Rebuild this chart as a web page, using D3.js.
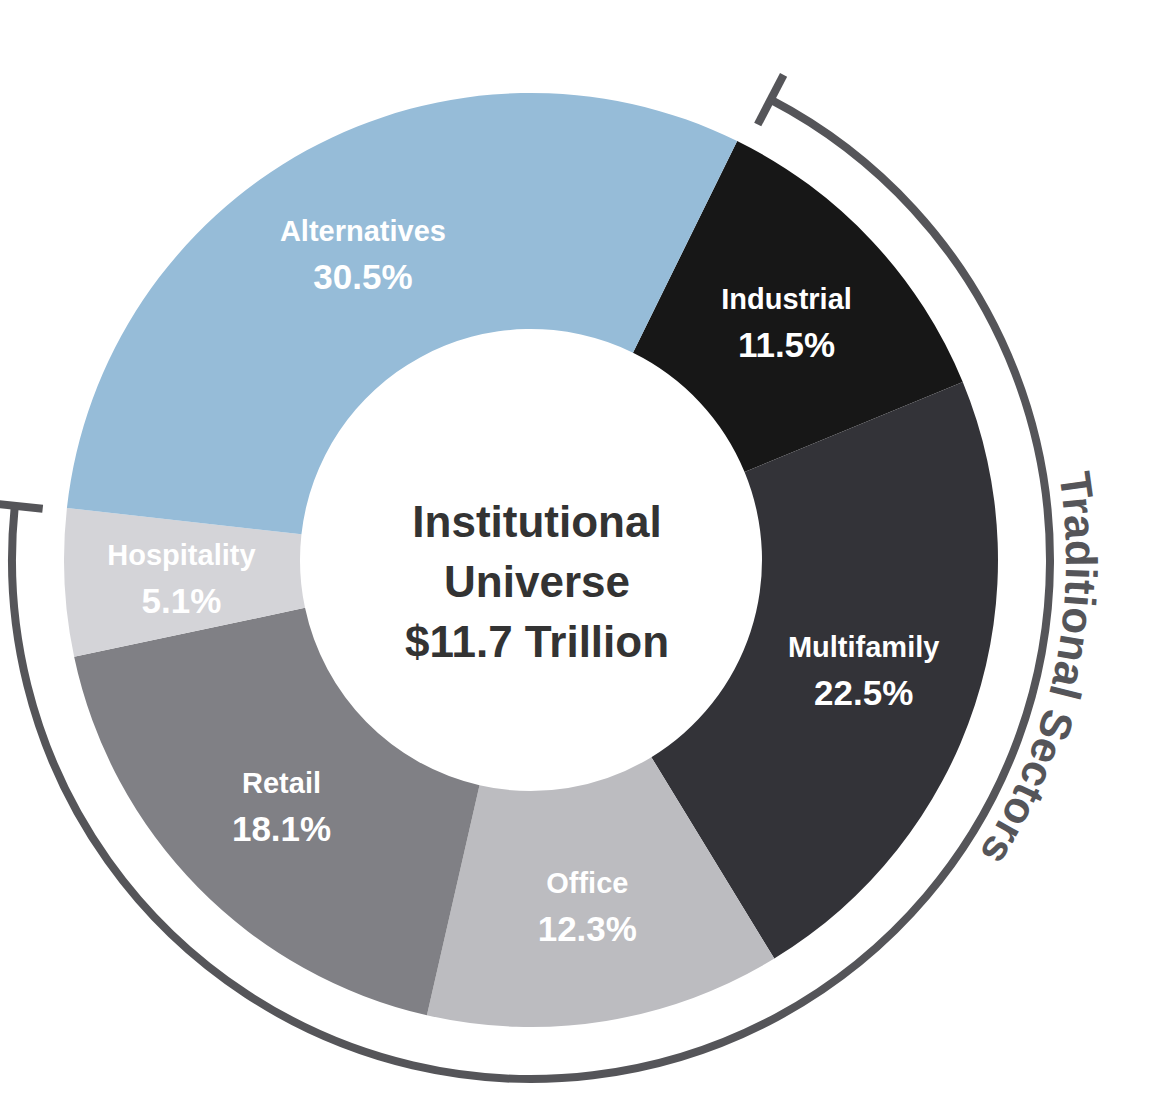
<!DOCTYPE html>
<html><head><meta charset="utf-8">
<script src="https://cdn.jsdelivr.net/npm/d3@7"></script>
<style>body{margin:0;background:#fff}text{font-family:"Liberation Sans",Arial,sans-serif;font-weight:bold}</style>
</head><body><svg id="c" width="1175" height="1118"></svg>
<script>
const categories=["Industrial","Multifamily","Office","Retail","Hospitality","Alternatives"];
const values=[11.5,22.5,12.3,18.1,5.1,30.5];
const colors=["#171717","#333338","#bcbcc0","#808085","#d4d4d8","#96bcd8"];
const centerLines=["Institutional","Universe","$11.7 Trillion"];
const bracketLabel="Traditional Sectors";

const svg=d3.select("#c");
const cx=531,cy=560,R=467,r=231;
const deg=Math.PI/180;
const start=26.2*deg;
const g=svg.append("g").attr("transform",`translate(${cx},${cy})`);
const pie=d3.pie().sort(null).startAngle(start).endAngle(start+2*Math.PI);
const arcs=pie(values);
const arc=d3.arc().innerRadius(r).outerRadius(R);
g.selectAll("path.s").data(arcs).join("path").attr("class","s").attr("d",arc).attr("fill",(d,i)=>colors[i]);
const lab=d3.arc().innerRadius(350).outerRadius(350);
arcs.forEach((d,i)=>{
  const [x,y]=lab.centroid(d);
  const t=g.append("text").attr("text-anchor","middle").attr("fill","#fff");
  t.append("tspan").attr("x",x).attr("y",y-12).attr("font-size",29).text(categories[i]);
  t.append("tspan").attr("x",x).attr("y",y+36).attr("font-size",35).text(values[i].toFixed(1)+"%");
});
centerLines.forEach((s,i)=>g.append("text").attr("text-anchor","middle").attr("x",6).attr("y",-38+i*60+15)
  .attr("font-size",44).attr("fill","#333").text(s));

// bracket
const bR=519,a0=27.5*deg,a1=276*deg;
g.append("path").attr("d",d3.arc().innerRadius(bR).outerRadius(bR).startAngle(a0).endAngle(a1)())
 .attr("fill","none").attr("stroke","#555559").attr("stroke-width",8);
[a0,a1].forEach(a=>{
  g.append("line").attr("x1",Math.sin(a)*(bR-28)).attr("y1",-Math.cos(a)*(bR-28))
   .attr("x2",Math.sin(a)*(bR+28)).attr("y2",-Math.cos(a)*(bR+28))
   .attr("stroke","#555559").attr("stroke-width",8);
});
const tR=535;
const p0=[Math.sin(0)*tR,-Math.cos(0)*tR],p1=[Math.sin(204*deg)*tR,-Math.cos(204*deg)*tR];
g.append("path").attr("id","tp").attr("fill","none")
 .attr("d",`M${p0[0]},${p0[1]} A${tR},${tR} 0 1 1 ${p1[0]},${p1[1]}`);
g.append("text").attr("font-size",44).attr("fill","#555559")
 .append("textPath").attr("href","#tp").attr("startOffset","50%").attr("text-anchor","middle").text(bracketLabel);
</script></body></html>
